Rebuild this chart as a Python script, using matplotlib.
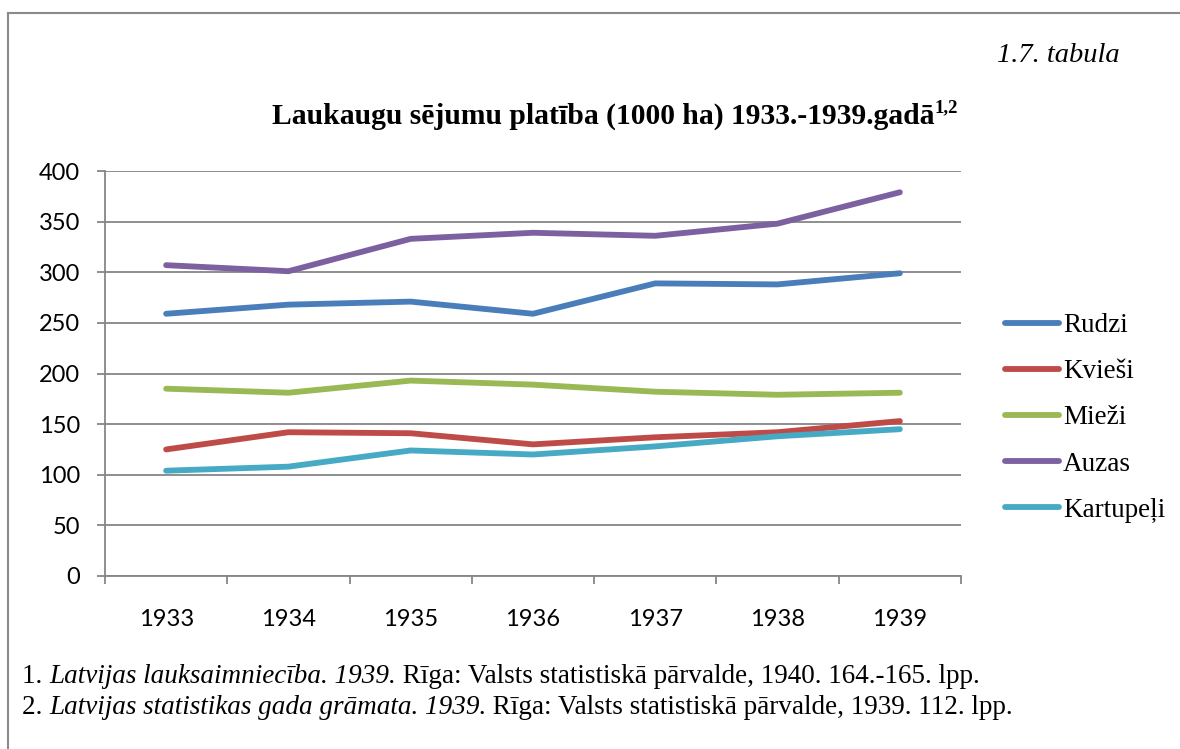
import matplotlib
matplotlib.use("Agg")
import matplotlib.pyplot as plt
from matplotlib.lines import Line2D

years = ["1933", "1934", "1935", "1936", "1937", "1938", "1939"]
rudzi = [259, 268, 271, 259, 289, 288, 299]
kviesi = [125, 142, 141, 130, 137, 142, 153]
miezi = [185, 181, 193, 189, 182, 179, 181]
auzas = [307, 301, 333, 339, 336, 348, 379]
kartupeli = [104, 108, 124, 120, 128, 138, 145]
series_names = ["Rudzi", "Kvieši", "Mieži", "Auzas", "Kartupeļi"]
colors = ["#4A7EBB", "#BE4B48", "#98B954", "#7D60A0", "#46AAC5"]
yticks = [0, 50, 100, 150, 200, 250, 300, 350, 400]

W, H = 1180, 749
fig = plt.figure(figsize=(W / 100, H / 100), dpi=100)
ax = fig.add_axes([105 / W, 1 - 576 / H, (961 - 105) / W, (576 - 171) / H])

x = list(range(len(years)))
for name, vals, c in zip(series_names, [rudzi, kviesi, miezi, auzas, kartupeli], colors):
    ax.plot(x, vals, color=c, lw=4.2, solid_capstyle="round", solid_joinstyle="round",
            label=name, clip_on=False)

gray = "#868686"
ax.set_xlim(-0.5, len(years) - 0.5)
ax.set_ylim(0, 400)
ax.set_yticks(yticks)
ax.set_yticklabels([str(v) for v in yticks], fontsize=17, family="Lato")
ax.yaxis.grid(True, color=gray, lw=1.3)
ax.set_axisbelow(True)
ax.set_xticks(x)
ax.set_xticklabels(years, fontsize=17, family="Lato")
ax.set_xticks([i - 0.5 for i in range(len(years) + 1)], minor=True)
ax.tick_params(axis="x", which="major", length=0, pad=24)
ax.tick_params(axis="x", which="minor", length=6, color=gray, width=1.3, direction="out")
ax.tick_params(axis="y", length=6, color=gray, width=1.3, direction="out", pad=12)
for s in ["top", "right"]:
    ax.spines[s].set_visible(False)
for s in ["left", "bottom"]:
    ax.spines[s].set_color(gray)
    ax.spines[s].set_linewidth(1.3)

leg = ax.legend(loc="center left", bbox_to_anchor=(1005 / W, 1 - 418 / H),
                bbox_transform=fig.transFigure, frameon=False,
                prop={"family": "Liberation Serif", "size": 19.5}, handlelength=2.0,
                handletextpad=0.15, labelspacing=0.78, borderpad=0, borderaxespad=0)

# Figure frame (left and top edges)
fig.add_artist(Line2D([8 / W, 8 / W], [0, 1 - 13 / H], transform=fig.transFigure, color="#8a8a8a", lw=1.5))
fig.add_artist(Line2D([8 / W, 1], [1 - 13 / H, 1 - 13 / H], transform=fig.transFigure, color="#8a8a8a", lw=1.5))

fig.text(1120 / W, 1 - 62 / H, "1.7. tabula", ha="right", va="baseline",
         family="Liberation Serif", style="italic", fontsize=20.5)

fig.canvas.draw()
renderer = fig.canvas.get_renderer()

title = fig.text(0, 1 - 124 / H, "Laukaugu sējumu platība (1000 ha) 1933.-1939.gadā",
                 ha="left", va="baseline", family="Liberation Serif", weight="bold", fontsize=21.3)
sup = fig.text(0, 1 - 112 / H, "1,2", ha="left", va="baseline",
               family="Liberation Serif", weight="bold", fontsize=13.5)
tw = title.get_window_extent(renderer).width
sw = sup.get_window_extent(renderer).width
start = 615 - (tw + sw) / 2
title.set_x(start / W)
sup.set_x((start + tw) / W)


def rich_line(parts, x0, y0, size=19.5):
    xpix = x0
    for txt, st in parts:
        t = fig.text(xpix / W, 1 - y0 / H, txt, family="Liberation Serif", fontsize=size,
                     style=st, va="baseline", ha="left")
        xpix = t.get_window_extent(renderer).x1


rich_line([("1. ", "normal"), ("Latvijas lauksaimniecība. 1939.", "italic"),
           (" Rīga: Valsts statistiskā pārvalde, 1940. 164.-165. lpp.", "normal")], 22, 683)
rich_line([("2. ", "normal"), ("Latvijas statistikas gada grāmata. 1939.", "italic"),
           (" Rīga: Valsts statistiskā pārvalde, 1939. 112. lpp.", "normal")], 22, 714)

fig.savefig("out.png", dpi=100)
